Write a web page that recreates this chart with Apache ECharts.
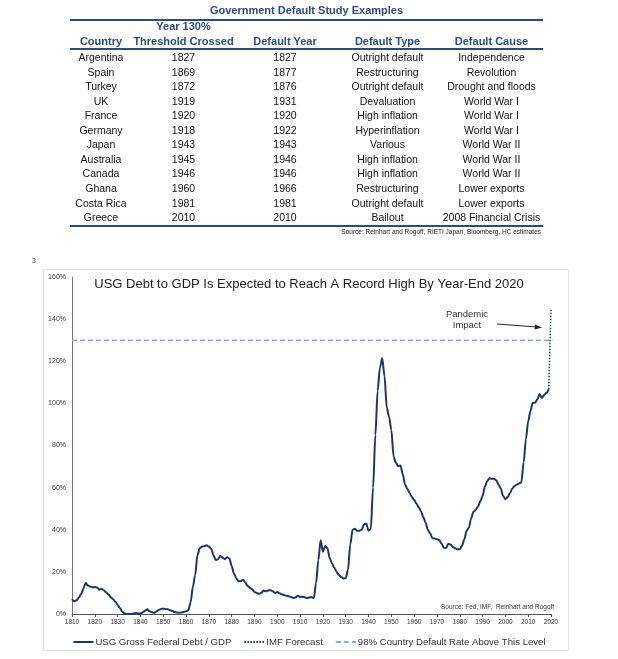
<!DOCTYPE html>
<html>
<head>
<meta charset="utf-8">
<script src="https://cdn.jsdelivr.net/npm/echarts@6/dist/echarts.min.js"></script>
<style>
  html, body { margin: 0; padding: 0; background: #fff; }
  #wrap { position: relative; width: 618px; height: 659px; overflow: hidden; font-family: Arial, "Liberation Sans", sans-serif; }
  #chart { position: absolute; left: 0; top: 0; width: 618px; height: 659px; }
  #tbl { position: absolute; left: 0; top: 0; width: 618px; height: 240px; z-index: 2; }
  .ttl { position: absolute; left: 70px; width: 473px; top: 4px; text-align: center; font-weight: bold; font-size: 11px; color: #2b4a86; }
  .rule { position: absolute; left: 70px; width: 473px; height: 2px; background: #2b4a7e; }
  .hdr { position: absolute; text-align: center; font-weight: bold; font-size: 11px; color: #2b4a86; line-height: 16px; }
  .cell { position: absolute; text-align: center; font-size: 10.5px; color: #111; white-space: nowrap; }
  .src { position: absolute; right: 77px; top: 228px; font-size: 6.5px; color: #222; }
</style>
</head>
<body>
<div id="wrap">
  <div id="chart"></div>
  <div id="tbl"></div>
</div>
<script>
// ---------- Table data ----------
const tableTitle = "Government Default Study Examples";
const tableHeaders = [["", "Country"], ["Year 130%", "Threshold Crossed"], ["", "Default Year"], ["", "Default Type"], ["", "Default Cause"]];
const countries = ["Argentina", "Spain", "Turkey", "UK", "France", "Germany", "Japan", "Australia", "Canada", "Ghana", "Costa Rica", "Greece"];
const thresholdYears = ["1827", "1869", "1872", "1919", "1920", "1918", "1943", "1945", "1946", "1960", "1981", "2010"];
const defaultYears = ["1827", "1877", "1876", "1931", "1920", "1922", "1943", "1946", "1946", "1966", "1981", "2010"];
const defaultTypes = ["Outright default", "Restructuring", "Outright default", "Devaluation", "High inflation", "Hyperinflation", "Various", "High inflation", "High inflation", "Restructuring", "Outright default", "Bailout"];
const defaultCauses = ["Independence", "Revolution", "Drought and floods", "World War I", "World War I", "World War I", "World War II", "World War II", "World War II", "Lower exports", "Lower exports", "2008 Financial Crisis"];
const tableSource = "Source: Reinhart and Rogoff,  RIETI Japan, Bloomberg, HC estimates";

// ---------- Chart data ----------
const chartTitle = "USG Debt to GDP Is Expected to Reach A Record High By Year-End 2020";
const startYear = 1810;
const debtValues = [
  7.0, 6.0, 6.5, 7.8, 9.5, 12.0, 14.8, 13.5, 13.0, 12.7,      // 1810-1819
  12.8, 12.6, 11.5, 12.0, 11.2, 10.2, 9.2, 8.0, 7.0, 5.8,     // 1820-1829
  4.3, 2.8, 1.1, 0.2, 0, 0, 0, 0.2, 0.5, 0.2,                 // 1830-1839
  0.3, 0.8, 1.5, 2.2, 1.3, 0.8, 0.6, 1.2, 1.9, 2.4,           // 1840-1849
  2.5, 2.4, 2.2, 1.8, 1.4, 0.9, 0.7, 0.6, 0.7, 1.0,           // 1850-1859
  1.3, 1.8, 5.5, 13.0, 18.5, 28.0, 31.2, 32.0, 32.2, 32.6,    // 1860-1869
  32.0, 31.0, 28.0, 25.6, 26.0, 27.5, 26.8, 26.0, 27.0, 26.3, // 1870-1879
  22.8, 19.3, 17.0, 15.6, 15.6, 16.3, 14.9, 13.3, 12.4, 11.8, // 1880-1889
  10.5, 10.0, 9.6, 10.1, 11.2, 10.8, 11.2, 11.3, 10.8, 10.0,  // 1890-1899
  10.4, 9.8, 9.4, 9.0, 8.7, 8.4, 8.1, 7.6, 7.8, 8.7,          // 1900-1909
  8.1, 8.2, 8.0, 7.6, 7.8, 8.1, 7.5, 14.6, 25.6, 35.0,        // 1910-1919
  29.6, 32.3, 31.2, 26.5, 24.0, 22.0, 20.0, 18.5, 17.6, 16.8, // 1920-1929
  17.0, 21.0, 33.0, 40.0, 40.5, 39.5, 39.5, 40.0, 42.5, 43.0, // 1930-1939
  39.5, 40.5, 60.0, 85.0, 106.0, 117.0, 121.4, 113.0, 98.0, 93.7, // 1940-1949
  87.4, 74.7, 71.8, 70.2, 70.5, 66.5, 61.5, 59.5, 57.5, 55.5, // 1950-1959
  54.1, 52.5, 50.7, 48.8, 46.0, 43.5, 40.0, 38.3, 36.0, 35.8, // 1960-1969
  35.5, 35.1, 33.5, 31.5, 31.3, 33.4, 33.0, 31.8, 31.2, 30.7, // 1970-1979
  30.8, 32.5, 35.5, 39.5, 41.0, 45.5, 48.5, 49.5, 51.0, 53.5, // 1980-1989
  56.0, 60.5, 63.0, 64.5, 64.2, 64.2, 63.5, 61.5, 59.5, 56.0, // 1990-1999
  54.5, 55.5, 57.3, 59.5, 60.8, 61.4, 62.0, 62.5, 72.0, 83.0, // 2000-2009
  91.5, 96.5, 100.3, 100.3, 101.9, 104.5, 102.5, 104.0, 105.0, 106.7 // 2010-2019
];
const forecastYears = [2019, 2020];
const forecastValues = [106.7, 145];
const thresholdLevel = 130;
const xMin = 1810, xMax = 2020, xStep = 10;
const yMin = 0, yMax = 160, yStep = 20;
const seriesNames = ["USG Gross Federal Debt / GDP", "IMF Forecast", "98% Country Default Rate Above This Level"];
const annotationLines = ["Pandemic", "Impact"];
const chartSource = "Source: Fed, IMF,  Reinhart and Rogoff";

// ---------- Build table ----------
const tbl = document.getElementById('tbl');
const colLeft = [70, 132, 235, 335, 440];
const colWidth = [62, 103, 100, 105, 103];
function add(cls, txt, style) {
  const d = document.createElement('div');
  d.className = cls; d.textContent = txt;
  Object.assign(d.style, style || {});
  tbl.appendChild(d); return d;
}
add('ttl', tableTitle);
add('rule', '', { top: '19px' });
add('rule', '', { top: '48px' });
add('rule', '', { top: '225px' });
tableHeaders.forEach((h, i) => {
  add('hdr', h[0], { left: colLeft[i] + 'px', width: colWidth[i] + 'px', top: '18px' });
  add('hdr', h[1], { left: colLeft[i] + 'px', width: colWidth[i] + 'px', top: '33px' });
});
const cols = [countries, thresholdYears, defaultYears, defaultTypes, defaultCauses];
const rowH = 14.55;
countries.forEach((_, r) => {
  cols.forEach((col, c) => {
    add('cell', col[r], { left: colLeft[c] + 'px', width: colWidth[c] + 'px', top: (50 + r * rowH) + 'px', lineHeight: rowH + 'px' });
  });
});
add('src', tableSource);

// ---------- Build chart ----------
const debtData = debtValues.map((v, i) => [startYear + i, v]);
const forecastData = forecastYears.map((y, i) => [y, forecastValues[i]]);
const thresholdData = [[xMin, thresholdLevel], [xMax + 0.6, thresholdLevel]];

const chart = echarts.init(document.getElementById('chart'), null, { renderer: 'canvas' });
const navy = '#1f3564';
chart.setOption({
  backgroundColor: '#fff',
  animation: false,
  textStyle: { fontFamily: 'Arial, "Liberation Sans", sans-serif' },
  title: {
    text: chartTitle, left: 'center', top: 273,
    textStyle: { fontSize: 13, fontWeight: 'normal', color: '#222' }
  },
  grid: { left: 72, right: 67, top: 277, bottom: 45, containLabel: false },
  xAxis: {
    type: 'value', min: xMin, max: xMax, interval: xStep,
    axisLine: { show: true, lineStyle: { color: '#555', width: 1 } },
    axisTick: { show: true, length: 3, lineStyle: { color: '#555' } },
    axisLabel: { fontSize: 6.5, color: '#333', margin: 5, formatter: v => String(v) },
    splitLine: { show: false }
  },
  yAxis: {
    type: 'value', min: yMin, max: yMax, interval: yStep,
    axisLine: { show: true, lineStyle: { color: '#777', width: 1 } },
    axisTick: { show: false },
    axisLabel: { fontSize: 7, color: '#333', margin: 6, formatter: v => v + '%' },
    splitLine: { show: false }
  },
  legend: {
    left: 'center', top: 632, itemWidth: 20, itemHeight: 8, itemGap: 12,
    itemStyle: { opacity: 0 },
    textStyle: { fontSize: 9.6, color: '#333', padding: [0, 0, 0, -3] },
    data: seriesNames
  },
  series: [
    {
      name: seriesNames[0], type: 'line', data: debtData, symbol: 'none',
      smooth: 0.3, smoothMonotone: 'x',
      lineStyle: { color: navy, width: 2 }, itemStyle: { color: navy }, z: 3
    },
    {
      name: seriesNames[1], type: 'line', data: forecastData, symbol: 'none',
      lineStyle: { color: navy, width: 1.5, type: [1.5, 1.5] }, itemStyle: { color: navy }, z: 3
    },
    {
      name: seriesNames[2], type: 'line', data: thresholdData, symbol: 'none',
      lineStyle: { color: '#8eaadb', width: 1.5, type: [5, 3] }, itemStyle: { color: '#8eaadb' }, z: 2
    }
  ],
  graphic: [
    { type: 'rect', shape: { x: 43.5, y: 269.5, width: 525, height: 381 }, style: { fill: 'none', stroke: '#e2e2e2', lineWidth: 1 }, silent: true, z: -1 },
    { type: 'text', left: 32, top: 258, style: { text: '3', fontSize: 7, fill: '#333' } },
    { type: 'text', x: 467, y: 309, style: { text: annotationLines.join('\n'), fontSize: 9.5, fill: '#333', align: 'center', lineHeight: 11 } },
    { type: 'line', shape: { x1: 497, y1: 324, x2: 537, y2: 327 }, style: { stroke: '#222', lineWidth: 1 } },
    { type: 'polygon', shape: { points: [[542, 327.4], [535, 324.6], [534.6, 329.4]] }, style: { fill: '#222' } },
    { type: 'text', right: 64, top: 604, style: { text: chartSource, fontSize: 6.5, fill: '#333' } }
  ]
});
</script>
</body>
</html>
